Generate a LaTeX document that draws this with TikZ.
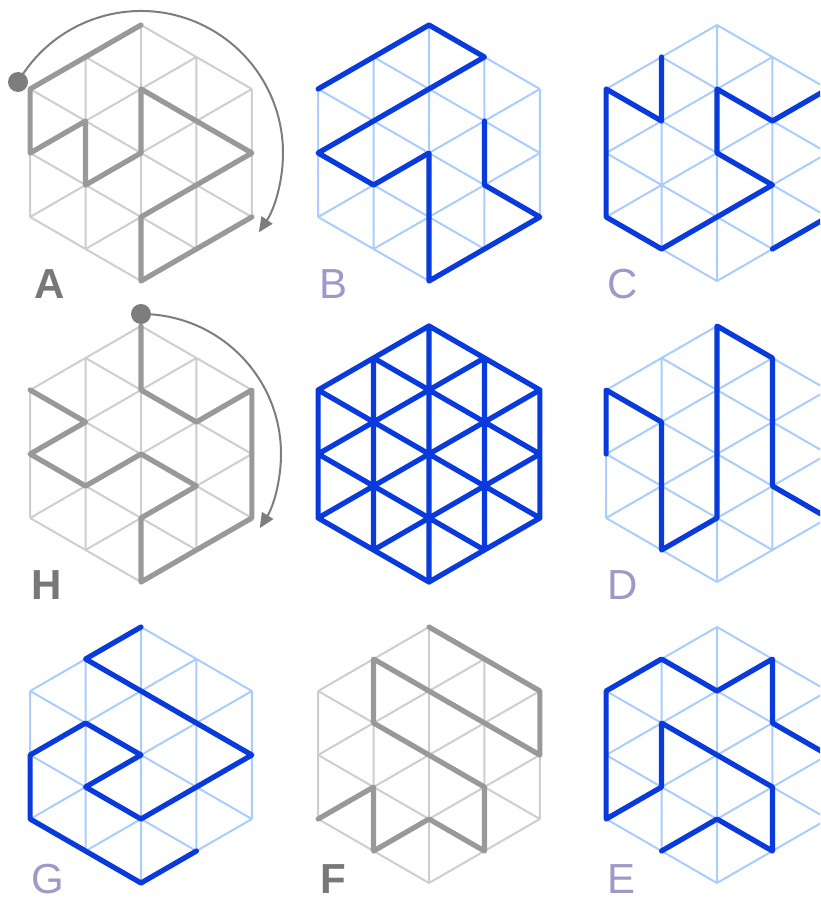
\documentclass[tikz,border=0pt]{standalone}
\usepackage{fontspec}
\setmainfont{Liberation Sans}
\usetikzlibrary{arrows.meta}
\definecolor{pblue}{RGB}{8,58,220}
\definecolor{lblue}{RGB}{170,205,255}
\definecolor{pgray}{RGB}{153,153,153}
\definecolor{lgray}{RGB}{206,206,206}
\definecolor{lblpurple}{RGB}{160,152,200}
\definecolor{lblgray}{RGB}{120,120,120}
\definecolor{arcgray}{RGB}{125,125,125}
\newcommand{\hexlattice}[1]{%
  \draw[#1] (-2,-2)--(-2,2) (-1,-3)--(-1,3) (0,-4)--(0,4) (1,-3)--(1,3) (2,-2)--(2,2)
    (0,-4)--(2,-2) (-1,-3)--(2,0) (-2,-2)--(2,2) (-2,0)--(1,3) (-2,2)--(0,4)
    (-2,-2)--(0,-4) (-2,0)--(1,-3) (-2,2)--(2,-2) (-1,3)--(2,0) (0,4)--(2,2);}
\tikzset{
  panel/.style={x=55.43pt,y=-32pt},
  thinblue/.style={draw=lblue,line width=2pt},
  thingray/.style={draw=lgray,line width=2pt},
  thickblue/.style={draw=pblue,line width=5.2pt,line cap=round,line join=round},
  thickgray/.style={draw=pgray,line width=5.2pt,line cap=round,line join=round},
  lblP/.style={text=lblpurple,font=\fontsize{42}{42}\selectfont,inner sep=0pt,text depth=0pt,anchor=base west},
  lblG/.style={text=lblgray,font=\fontsize{42}{42}\selectfont\bfseries,inner sep=0pt,text depth=0pt,anchor=base west},
  arcline/.style={draw=arcgray,line width=2pt,-{Triangle[length=15pt,width=13pt]}},
}
\begin{document}
\begin{tikzpicture}[x=1pt,y=-1pt]
\useasboundingbox (0,0) rectangle (820,902);
\clip (0,0) rectangle (820,902);
\fill[white] (0,0) rectangle (820,902);
% ---- A
\begin{scope}[shift={(141pt,-153pt)},panel]
  \hexlattice{thingray}
  \draw[thickgray] (0,-4)--(-2,-2)--(-2,0)--(-1,-1)--(-1,1)--(0,0)--(0,-2)--(2,0)--(0,2)--(0,4)--(2,2);
\end{scope}
\draw[arcline] ([shift={(150:142pt)}]141pt,-153pt) arc[start angle=150,end angle=-34,radius=142pt];
\fill[arcgray] ([shift={(150:142pt)}]141pt,-153pt) circle[radius=10pt];
\node[lblG] (labA) at (34,298) {A};
% ---- B
\begin{scope}[shift={(429pt,-153pt)},panel]
  \hexlattice{thinblue}
  \draw[thickblue] (-2,-2)--(0,-4)--(1,-3)--(-2,0)--(-1,1)--(0,0)--(0,4)--(2,2)--(1,1)--(1,-1);
\end{scope}
\node[lblP] (labB) at (319,298) {B};
% ---- C
\begin{scope}[shift={(717pt,-153pt)},panel]
  \hexlattice{thinblue}
  \draw[thickblue] (-1,-3)--(-1,-1)--(-2,-2)--(-2,2)--(-1,3)--(1,1)--(0,0)--(0,-2)--(1,-1)--(2,-2)--(2,2)--(1,3);
\end{scope}
\node[lblP] (labC) at (607,298) {C};
% ---- H
\begin{scope}[shift={(141pt,-454pt)},panel]
  \hexlattice{thingray}
  \draw[thickgray] (0,-4)--(0,-2)--(1,-1)--(2,-2)--(2,2)--(0,4)--(0,2)--(1,1)--(0,0)--(-1,1)--(-2,0)--(-1,-1)--(-2,-2);
\end{scope}
\draw[arcline] ([shift={(90:140pt)}]141pt,-454pt) arc[start angle=90,end angle=-32,radius=140pt];
\fill[arcgray] ([shift={(90:140pt)}]141pt,-454pt) circle[radius=10pt];
\node[lblG] (labH) at (31,599) {H};
% ---- middle full
\begin{scope}[shift={(429pt,-454pt)},panel]
  \hexlattice{thickblue}
\end{scope}
% ---- D
\begin{scope}[shift={(717pt,-454pt)},panel]
  \hexlattice{thinblue}
  \draw[thickblue] (-2,0)--(-2,-2)--(-1,-1)--(-1,3)--(0,2)--(0,-4)--(1,-3)--(1,1)--(2,2);
\end{scope}
\node[lblP] (labD) at (607,599) {D};
% ---- G
\begin{scope}[shift={(141pt,-755pt)},panel]
  \hexlattice{thinblue}
  \draw[thickblue] (0,-4)--(-1,-3)--(2,0)--(0,2)--(-1,1)--(0,0)--(-1,-1)--(-2,0)--(-2,2)--(0,4)--(1,3);
\end{scope}
\node[lblP] (labG) at (31,893) {G};
% ---- F
\begin{scope}[shift={(429pt,-755pt)},panel]
  \hexlattice{thingray}
  \draw[thickgray] (0,-4)--(2,-2)--(2,0)--(-1,-3)--(-1,-1)--(1,1)--(1,3)--(0,2)--(-1,3)--(-1,1)--(-2,2);
\end{scope}
\node[lblG] (labF) at (320,893) {F};
% ---- E
\begin{scope}[shift={(717pt,-755pt)},panel]
  \hexlattice{thinblue}
  \draw[thickblue] (-1,3)--(0,2)--(1,3)--(1,1)--(-1,-1)--(-1,1)--(-2,2)--(-2,-2)--(-1,-3)--(0,-2)--(1,-3)--(1,-1)--(2,0);
\end{scope}
\node[lblP] (labE) at (607,893) {E};
\end{tikzpicture}
\end{document}
